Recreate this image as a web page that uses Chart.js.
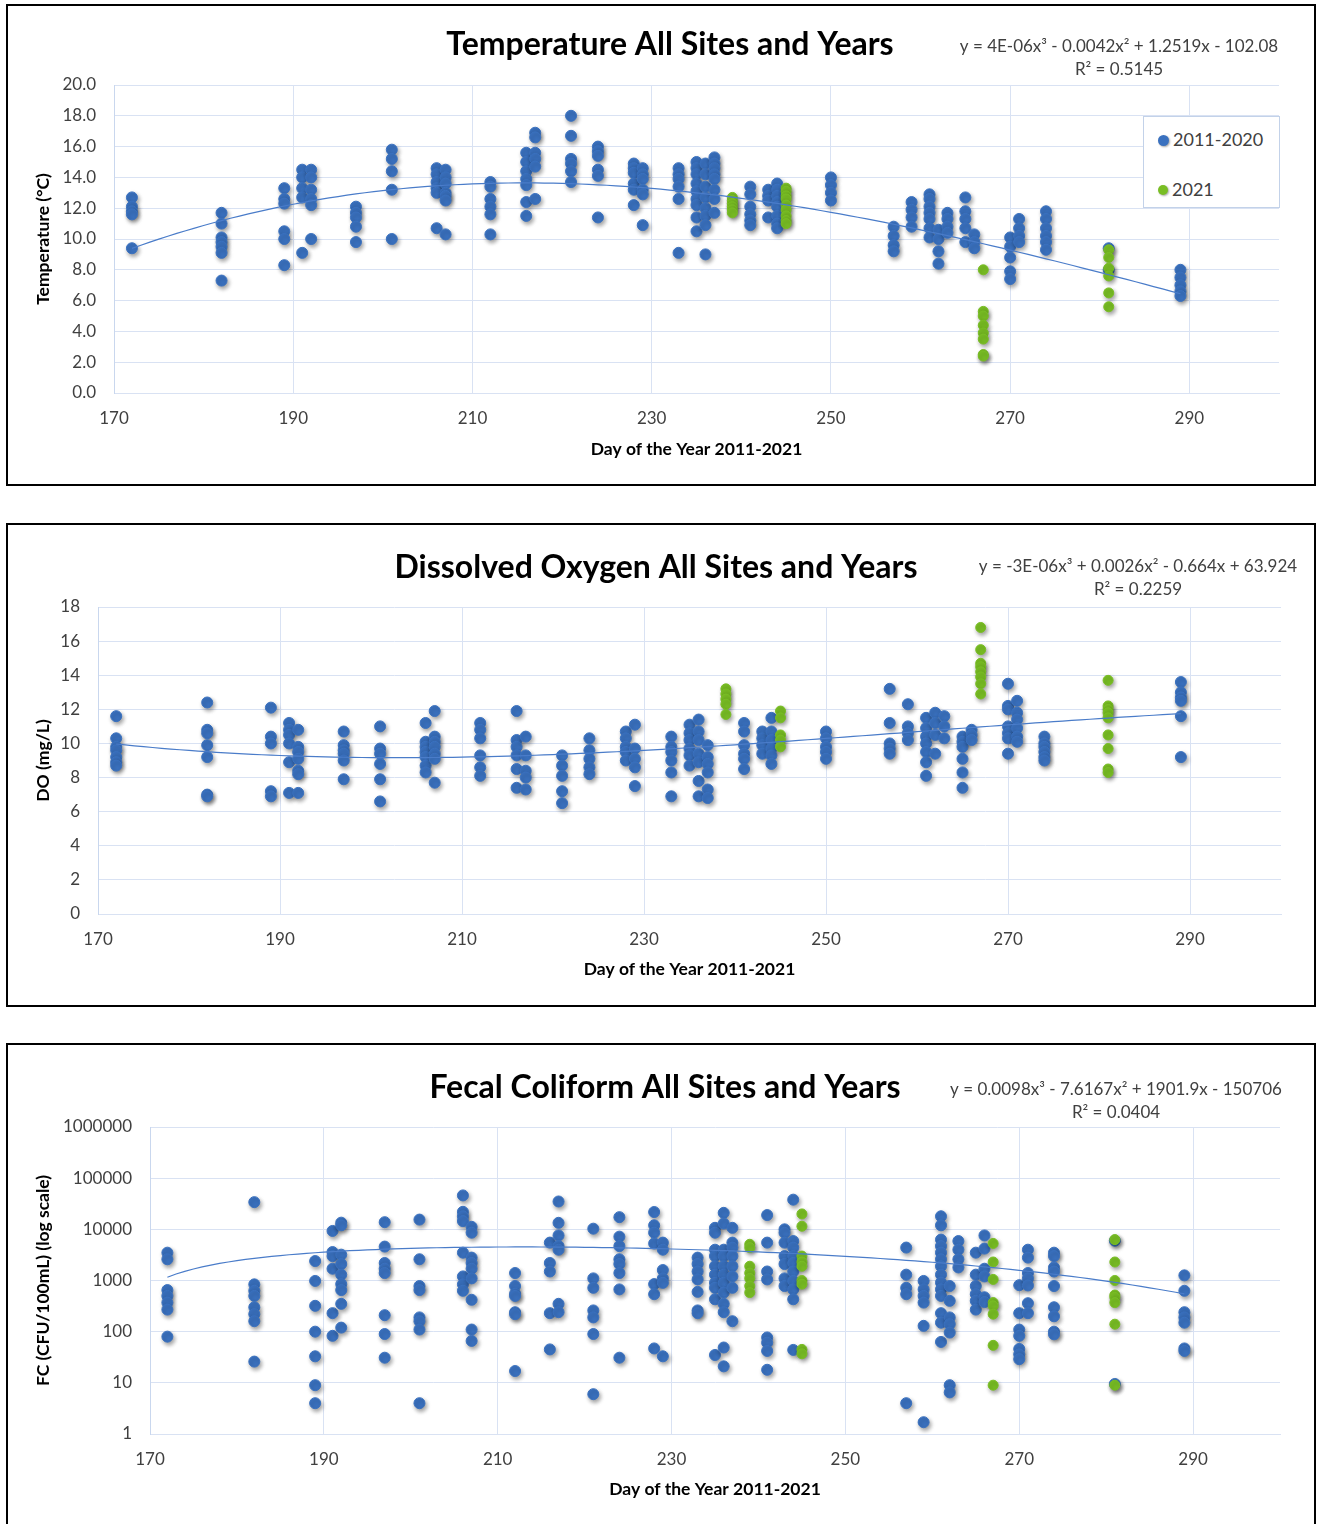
<!DOCTYPE html>
<html>
<head>
<meta charset="utf-8">
<title>All Sites and Years</title>
<script src="https://cdn.jsdelivr.net/npm/chart.js@4.4.1/dist/chart.umd.min.js"></script>
<style>
  html, body { margin: 0; padding: 0; background: #fff; overflow: hidden; }
  body { width: 1318px; height: 1524px; position: relative; font-family: Lato, sans-serif; }
  .panel { position: absolute; left: 6px; width: 1306px; border: 2px solid #000; background: #fff; }
  .panel canvas { display: block; }
  #legend { position: absolute; left: 1143px; top: 116px; width: 135px; height: 90px;
            border: 1px solid #C3D2E9; background: #fff; }
  #legend .item { position: absolute; left: 14px; height: 20px; line-height: 20px;
                  font-size: 18px; color: #404040; white-space: nowrap; }
  #legend .dot { display: inline-block; border-radius: 50%; vertical-align: middle;
                 margin-right: 4px; position: relative; top: -1px; box-shadow: 1px 1px 2px rgba(0,0,0,0.35); }
</style>
</head>
<body>
<div class="panel" style="top:4px;height:478px"><canvas id="tempChart" width="1306" height="478"></canvas></div>
<div class="panel" style="top:523px;height:480px"><canvas id="doChart" width="1306" height="480"></canvas></div>
<div class="panel" style="top:1043px;height:485px"><canvas id="fcChart" width="1306" height="485"></canvas></div>
<div id="legend"></div>
<script>
const dayTicks = [170, 190, 210, 230, 250, 270, 290];
const seriesNames = ['2011-2020', '2021'];
const seriesColors = ['#3A71BF', '#79BE24'];

// Temperature (°C), sampling days and readings per day
const tempDays = [172, 182, 189, 191, 192, 197, 201, 206, 207, 212, 216, 217, 221, 224, 228, 229, 233,
  235, 236, 237, 241, 243, 244, 250, 257, 259, 261, 262, 263, 265, 266, 270, 271, 274, 281, 289];
const tempVals = [
  [12.7, 12.1, 11.8, 11.6, 9.4],
  [11.7, 11.0, 10.1, 9.8, 9.5, 9.1, 7.3],
  [13.3, 12.6, 12.3, 10.5, 10.0, 8.3],
  [14.5, 14.0, 13.3, 12.7, 9.1],
  [14.5, 14.0, 13.2, 12.6, 12.2, 10.0],
  [12.1, 11.7, 11.4, 10.8, 9.8],
  [15.8, 15.2, 14.4, 13.2, 10.0],
  [14.6, 14.2, 13.7, 13.3, 13.0, 10.7],
  [14.5, 14.0, 13.6, 13.0, 12.8, 12.5, 10.3],
  [13.7, 13.4, 12.6, 12.1, 11.6, 10.3],
  [15.6, 15.0, 14.4, 13.9, 13.5, 12.4, 11.5],
  [16.9, 16.6, 15.6, 15.2, 14.7, 12.6],
  [18.0, 16.7, 15.2, 14.9, 14.4, 13.7],
  [16.0, 15.7, 15.4, 14.5, 14.1, 11.4],
  [14.9, 14.6, 14.3, 13.6, 13.2, 12.2],
  [14.6, 14.2, 13.9, 13.2, 12.9, 10.9],
  [14.6, 14.2, 13.9, 13.4, 12.6, 9.1],
  [15.0, 14.6, 14.2, 13.6, 13.1, 12.6, 12.2, 11.4, 10.5],
  [14.9, 14.2, 13.4, 12.7, 12.0, 11.5, 10.9, 9.0],
  [15.3, 14.9, 14.6, 14.2, 13.9, 13.2, 12.6, 11.7],
  [13.4, 12.9, 12.1, 11.6, 11.2, 10.9],
  [13.2, 12.8, 12.5, 11.4],
  [13.6, 13.2, 12.8, 12.4, 12.1, 11.5, 11.0, 10.7],
  [14.0, 13.5, 13.0, 12.5],
  [10.8, 10.2, 9.6, 9.2],
  [12.4, 11.9, 11.4, 10.8],
  [12.9, 12.6, 12.1, 11.7, 11.3, 10.7, 10.1],
  [10.6, 10.0, 9.2, 8.4],
  [11.7, 11.3, 10.8, 10.4],
  [12.7, 11.8, 11.3, 10.7, 9.8],
  [10.3, 9.8, 9.4],
  [10.1, 9.5, 8.8, 7.9, 7.4],
  [11.3, 10.7, 10.2, 9.8],
  [11.8, 11.3, 10.7, 10.2, 9.8, 9.3],
  [9.4, 8.0],
  [8.0, 7.5, 7.0, 6.6, 6.3]
];
const tempDays21 = [239, 245, 267, 281];
const tempVals21 = [
  [12.7, 12.5, 12.3, 12.1, 11.9, 11.7],
  [13.3, 13.1, 12.8, 12.6, 12.2, 11.9, 11.5, 11.2, 11.0],
  [8.0, 5.3, 5.0, 4.4, 3.9, 3.5, 2.5, 2.4],
  [9.3, 8.8, 8.1, 7.6, 6.5, 5.6]
];
const tempTicks = [0, 2, 4, 6, 8, 10, 12, 14, 16, 18, 20];

// Dissolved oxygen (mg/L)
const doDays = [172, 182, 189, 191, 192, 197, 201, 206, 207, 212, 216, 217, 221, 224, 228, 229, 233,
  235, 236, 237, 241, 243, 244, 250, 257, 259, 261, 262, 263, 265, 266, 270, 271, 274, 289];
const doVals = [
  [11.6, 10.3, 9.8, 9.6, 9.2, 8.9, 8.7],
  [12.4, 10.8, 10.6, 9.9, 9.2, 7.0, 6.9],
  [12.1, 10.4, 10.0, 7.2, 6.9],
  [11.2, 10.8, 10.5, 10.0, 8.9, 7.1],
  [10.8, 9.8, 9.5, 9.1, 8.4, 8.2, 7.1],
  [10.7, 9.9, 9.6, 9.4, 9.0, 7.9],
  [11.0, 9.7, 9.4, 8.8, 7.9, 6.6],
  [11.2, 10.1, 9.8, 9.5, 9.2, 8.7, 8.3],
  [11.9, 10.4, 10.1, 9.8, 9.4, 9.1, 7.7],
  [11.2, 10.8, 10.3, 9.3, 8.6, 8.1],
  [11.9, 10.2, 9.8, 9.3, 8.5, 7.4],
  [10.4, 9.3, 8.4, 8.0, 7.3],
  [9.3, 8.7, 8.1, 7.2, 6.5],
  [10.3, 9.6, 9.1, 8.6, 8.2],
  [10.7, 10.3, 9.8, 9.5, 9.0],
  [11.1, 9.7, 9.1, 8.6, 7.5],
  [10.4, 9.8, 9.5, 9.0, 8.3, 6.9],
  [11.1, 10.6, 10.2, 9.7, 9.3, 8.7],
  [11.4, 10.7, 10.2, 9.4, 8.9, 7.8, 6.9],
  [9.9, 9.2, 8.8, 8.3, 7.3, 6.8],
  [11.2, 10.7, 9.9, 9.4, 9.1, 8.5],
  [10.7, 10.3, 9.9, 9.4],
  [11.5, 10.7, 10.2, 9.7, 9.3, 8.8],
  [10.7, 10.3, 9.8, 9.5, 9.1],
  [13.2, 11.2, 10.0, 9.7, 9.4],
  [12.3, 11.0, 10.6, 10.2],
  [11.5, 10.9, 10.4, 10.0, 9.5, 8.9, 8.1],
  [11.8, 11.2, 10.5, 9.4],
  [11.6, 11.0, 10.3],
  [10.4, 10.1, 9.8, 9.1, 8.3, 7.4],
  [10.8, 10.5, 10.2],
  [13.5, 12.2, 12.0, 11.0, 10.6, 10.3, 9.4],
  [12.5, 11.8, 11.4, 10.9, 10.4, 10.1],
  [10.4, 10.0, 9.8, 9.5, 9.2, 9.0],
  [13.6, 13.0, 12.7, 12.5, 11.6, 9.2]
];
const doDays21 = [239, 245, 267, 281];
const doVals21 = [
  [13.2, 12.9, 12.6, 12.3, 11.7],
  [11.9, 11.5, 10.5, 10.2, 9.8],
  [16.8, 15.5, 14.7, 14.5, 14.2, 13.9, 13.5, 12.9],
  [13.7, 12.2, 12.0, 11.8, 11.5, 10.5, 9.7, 8.5, 8.3]
];
const doTicks = [0, 2, 4, 6, 8, 10, 12, 14, 16, 18];

// Fecal coliform (CFU/100mL)
const fcDays = [172, 182, 189, 191, 192, 197, 201, 206, 207, 212, 216, 217, 221, 224, 228, 229, 233,
  235, 236, 237, 241, 243, 244, 257, 259, 261, 262, 263, 265, 266, 270, 271, 274, 281, 289];
const fcVals = [
  [3500, 2600, 650, 500, 370, 270, 80],
  [34000, 840, 630, 500, 300, 220, 160, 26],
  [2400, 980, 320, 100, 33, 9, 4],
  [9300, 3600, 3000, 1700, 230, 83],
  [13500, 12000, 3200, 2100, 1300, 850, 650, 350, 120],
  [13800, 4600, 2200, 1700, 1400, 210, 90, 31],
  [15500, 2600, 780, 650, 190, 160, 110, 4],
  [46000, 22000, 18000, 14500, 3500, 1200, 840, 630],
  [11200, 8600, 2800, 2200, 1700, 1100, 420, 110, 66],
  [1400, 780, 550, 500, 240, 220, 17],
  [5500, 2200, 1500, 230, 45],
  [35000, 13400, 7600, 4700, 4000, 350, 240],
  [10300, 1100, 720, 260, 190, 90, 6],
  [17300, 7200, 4700, 2600, 2100, 1400, 670, 31],
  [21800, 12000, 8600, 5300, 850, 540, 47],
  [5500, 4000, 1600, 1100, 900, 33],
  [2800, 2100, 1500, 1050, 600, 260, 230],
  [10700, 8600, 4000, 3000, 1900, 1300, 900, 720, 430, 35],
  [21000, 13000, 4000, 3000, 1900, 1300, 900, 580, 350, 240, 49, 21],
  [10700, 5500, 4400, 3000, 1900, 1200, 720, 160],
  [19000, 5500, 1500, 1050, 77, 61, 42, 18],
  [10000, 8600, 5500, 3000, 2100, 1100, 780],
  [38000, 5900, 4400, 3000, 2200, 1500, 980, 670, 430, 44],
  [4400, 1300, 720, 540, 4],
  [980, 670, 500, 370, 130, 1.7],
  [18000, 12000, 6300, 4700, 3500, 2600, 1900, 1300, 910, 670, 500, 230, 150, 63],
  [780, 400, 190, 140, 96, 9, 6.5],
  [5900, 4000, 2600, 1800],
  [3500, 1300, 780, 540, 400, 270],
  [7600, 4200, 1700, 1200, 470, 380],
  [810, 230, 110, 83, 46, 36, 29],
  [4000, 2800, 1400, 1100, 800, 360, 230],
  [3500, 3000, 1800, 1500, 780, 300, 200, 100, 89],
  [6000, 9.5],
  [1260, 630, 240, 190, 150, 47, 42]
];
const fcDays21 = [239, 245, 267, 281];
const fcVals21 = [
  [5100, 4400, 1900, 1400, 1100, 780, 580],
  [20000, 11500, 3000, 2300, 1900, 1000, 850, 45, 37],
  [5300, 2300, 1050, 370, 320, 220, 54, 9],
  [6300, 2300, 1000, 520, 470, 370, 140, 9]
];
const fcTicks = [1, 10, 100, 1000, 10000, 100000, 1000000];

const gridColor = '#D9E2F3';
const tickColor = '#404040';
Chart.defaults.font.family = 'Lato, sans-serif';

function toPoints(days, vals) {
  const pts = [];
  days.forEach((d, i) => vals[i].forEach(v => pts.push({ x: d, y: v })));
  return pts;
}

// least-squares cubic, x centred so the normal equations stay well conditioned
function cubicFit(pts) {
  const x0 = 230, s = 60;
  const A = [0, 1, 2, 3].map(() => [0, 0, 0, 0, 0]);
  pts.forEach(p => {
    const t = (p.x - x0) / s;
    const pw = [1, t, t * t, t * t * t];
    for (let i = 0; i < 4; i++) {
      for (let j = 0; j < 4; j++) A[i][j] += pw[i] * pw[j];
      A[i][4] += pw[i] * p.y;
    }
  });
  for (let i = 0; i < 4; i++) {
    let m = i;
    for (let r = i + 1; r < 4; r++) if (Math.abs(A[r][i]) > Math.abs(A[m][i])) m = r;
    [A[i], A[m]] = [A[m], A[i]];
    for (let r = 0; r < 4; r++) {
      if (r === i) continue;
      const f = A[r][i] / A[i][i];
      for (let c = i; c < 5; c++) A[r][c] -= f * A[i][c];
    }
  }
  const c = A.map((row, i) => row[4] / row[i]);
  return x => { const t = (x - x0) / s; return c[0] + t * (c[1] + t * (c[2] + t * c[3])); };
}

function trendPoints(pts) {
  const f = cubicFit(pts);
  const xs = pts.map(p => p.x);
  const out = [];
  for (let d = Math.min(...xs); d <= Math.max(...xs); d++) out.push({ x: d, y: f(d) });
  return out;
}

// title and trendline equation above the plot
const headerText = {
  id: 'headerText',
  afterDraw(chart, args, opts) {
    const ctx = chart.ctx;
    ctx.save();
    ctx.textAlign = 'center';
    ctx.textBaseline = 'middle';
    ctx.fillStyle = '#000';
    ctx.font = 'bold 32px Lato, sans-serif';
    ctx.fillText(opts.title, opts.titleX, opts.titleY);
    ctx.fillStyle = tickColor;
    ctx.font = '17px Lato, sans-serif';
    ctx.fillText(opts.equation, opts.eqX, opts.eqY);
    ctx.fillText(opts.r2, opts.eqX, opts.eqY + 23);
    ctx.restore();
  }
};

// soft drop shadow under the markers
const pointShadow = {
  id: 'pointShadow',
  beforeDatasetDraw(chart, args) {
    if (chart.data.datasets[args.index].showLine) return;
    const ctx = chart.ctx;
    ctx.save();
    ctx.shadowColor = 'rgba(0,0,0,0.38)';
    ctx.shadowBlur = 4;
    ctx.shadowOffsetX = 1.5;
    ctx.shadowOffsetY = 2.5;
  },
  afterDatasetDraw(chart, args) {
    if (chart.data.datasets[args.index].showLine) return;
    chart.ctx.restore();
  }
};

function makeChart(id, o) {
  const blue = toPoints(o.days, o.vals);
  const green = toPoints(o.days21, o.vals21);
  // the trend covers every year, 2021 included
  let trend = trendPoints(blue.concat(green));
  if (o.log) trend = trend.filter(p => p.y > 0);

  return new Chart(document.getElementById(id), {
    type: 'scatter',
    data: {
      datasets: [
        { label: 'Poly. trend', data: trend, showLine: true, pointRadius: 0,
          borderColor: '#4A7CC9', borderWidth: 1.2, order: 0 },
        { label: seriesNames[1], data: green, backgroundColor: seriesColors[1],
          borderColor: seriesColors[1], borderWidth: 1, pointRadius: 5, order: 1 },
        { label: seriesNames[0], data: blue, backgroundColor: seriesColors[0],
          borderColor: seriesColors[0], borderWidth: 1, pointRadius: 5.5, order: 2 }
      ]
    },
    options: {
      responsive: false,
      animation: false,
      layout: { padding: { top: o.top, right: o.padRight, left: 0, bottom: 0 } },
      plugins: {
        legend: { display: false },
        tooltip: { enabled: false },
        headerText: o.header
      },
      scales: {
        x: {
          type: 'linear', min: 170, max: 300,
          afterBuildTicks: ax => { ax.ticks = dayTicks.map(v => ({ value: v })); },
          afterFit: ax => { ax.height = o.xAxisH; },
          grid: { color: gridColor, drawTicks: false },
          border: { color: gridColor },
          ticks: { padding: 15, color: tickColor, font: { size: 17 }, maxRotation: 0, autoSkip: false },
          title: { display: true, text: 'Day of the Year 2011-2021', color: '#000',
                   font: { size: 17.5, weight: 'bold' }, padding: { top: 0, bottom: o.xTitlePad } }
        },
        y: {
          type: o.log ? 'logarithmic' : 'linear', min: o.yTicks[0], max: o.yTicks[o.yTicks.length - 1],
          afterBuildTicks: ax => { ax.ticks = o.yTicks.map(v => ({ value: v })); },
          afterFit: ax => { ax.width = o.yAxisW; },
          grid: { color: gridColor, drawTicks: false },
          border: { color: '#C9D7EE' },
          ticks: { padding: 18, color: tickColor, font: { size: 17 }, autoSkip: false, callback: o.fmt },
          title: { display: true, text: o.yTitle, color: '#000',
                   font: { size: 17.5, weight: 'bold' }, padding: { top: 25, bottom: 0 } }
        }
      }
    },
    plugins: [headerText, pointShadow]
  });
}

makeChart('tempChart', {
  days: tempDays, vals: tempVals, days21: tempDays21, vals21: tempVals21,
  yTicks: tempTicks, fmt: v => v.toFixed(1), yTitle: 'Temperature (°C)',
  top: 79, padRight: 35, yAxisW: 106, xAxisH: 91, xTitlePad: 24,
  header: { title: 'Temperature All Sites and Years', titleX: 662, titleY: 39,
            equation: 'y = 4E-06x³ - 0.0042x² + 1.2519x - 102.08', r2: 'R² = 0.5145', eqX: 1111, eqY: 41 }
});

makeChart('doChart', {
  days: doDays, vals: doVals, days21: doDays21, vals21: doVals21,
  yTicks: doTicks, fmt: v => String(v), yTitle: 'DO (mg/L)',
  top: 82, padRight: 33, yAxisW: 90, xAxisH: 91, xTitlePad: 25,
  header: { title: 'Dissolved Oxygen All Sites and Years', titleX: 648, titleY: 43,
            equation: 'y = -3E-06x³ + 0.0026x² - 0.664x + 63.924', r2: 'R² = 0.2259', eqX: 1130, eqY: 42 }
});

makeChart('fcChart', {
  days: fcDays, vals: fcVals, days21: fcDays21, vals21: fcVals21, log: true,
  yTicks: fcTicks, fmt: v => String(v), yTitle: 'FC (CFU/100mL) (log scale)',
  top: 82, padRight: 34, yAxisW: 142, xAxisH: 96, xTitlePad: 30,
  header: { title: 'Fecal Coliform All Sites and Years', titleX: 657, titleY: 43,
            equation: 'y = 0.0098x³ - 7.6167x² + 1901.9x - 150706', r2: 'R² = 0.0404', eqX: 1108, eqY: 45 }
});

// legend box for the temperature panel
const legend = document.getElementById('legend');
[[seriesNames[0], seriesColors[0], 11, 12], [seriesNames[1], seriesColors[1], 10, 62]].forEach(([name, color, size, top]) => {
  const item = document.createElement('div');
  item.className = 'item';
  item.style.top = top + 'px';
  item.innerHTML = '<span class="dot" style="width:' + size + 'px;height:' + size + 'px;background:' + color + '"></span>' + name;
  legend.appendChild(item);
});
</script>
</body>
</html>
